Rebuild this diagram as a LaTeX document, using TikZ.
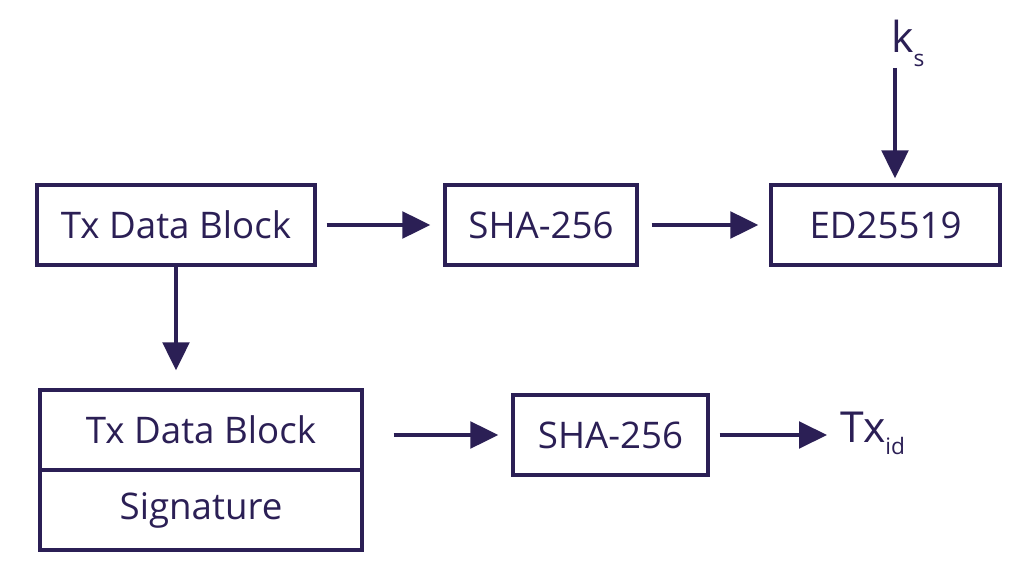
\documentclass[tikz,border=0pt]{standalone}
\usepackage{fontspec}
\setmainfont{Open Sans}
\usetikzlibrary{arrows.meta}
\definecolor{ink}{HTML}{2B1F55}
\begin{document}
\begin{tikzpicture}[x=0.75pt,y=-0.75pt,
  box/.style={draw=ink,line width=2.5pt,rectangle,inner sep=0pt,text=ink,font=\fontsize{27.5}{32}\selectfont},
  arr/.style={draw=ink,line width=2.5pt,-{Triangle[length=21pt,width=20pt]}},
  lbl/.style={text=ink,font=\fontsize{32}{36}\selectfont,inner sep=0pt}]
\useasboundingbox (0,0) rectangle (1024,574);
\node[box,minimum width=208.5pt,minimum height=60pt] (b1) at (176,225) {Tx Data Block};
\node[box,minimum width=144pt,minimum height=60pt] (sha1) at (541,225) {SHA-256};
\node[box,minimum width=171.75pt,minimum height=60pt] (ed) at (885.5,225) {ED25519};
\node[box,minimum width=241.5pt,minimum height=60pt] (tb) at (201,430) {Tx Data Block};
\node[box,minimum width=241.5pt,minimum height=60pt] (sg) at (201,510) {Signature};
\node[box,minimum width=146.25pt,minimum height=60pt] (sha2) at (610.5,435) {SHA-256};
\node[lbl,anchor=base west] (txid) at (840,442) {Tx\raisebox{-9.5pt}{\fontsize{17}{19}\selectfont id}};
\node[lbl,anchor=base west] (ks) at (891,53) {k\raisebox{-10pt}{\fontsize{17}{19}\selectfont s}};
\coordinate (kstart) at (895,68);
\coordinate (tend) at (829,435);
\draw[arr,shorten <=7.5pt,shorten >=9.75pt] (b1) -- (sha1);
\draw[arr,shorten <=9.75pt,shorten >=8.25pt] (sha1) -- (ed);
\draw[arr,shorten >=3.75pt] (kstart) -- (kstart |- ed.north);
\draw[arr,shorten >=13.5pt] (b1.south) -- (tb.north -| b1.south);
\draw[arr,shorten <=22.5pt,shorten >=9.75pt] (tb.east |- sha2) -- (sha2.west);
\draw[arr,shorten <=7.5pt,shorten >=1.5pt] (sha2.east) -- (tend);
\end{tikzpicture}
\end{document}
